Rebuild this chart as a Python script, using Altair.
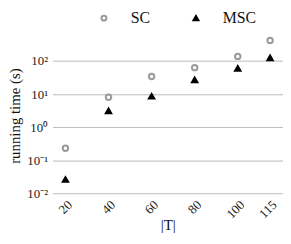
import altair as alt
import pandas as pd

sizes = [20, 40, 60, 80, 100, 115]
sc = [0.23, 8.0, 34, 63, 138, 420]
msc = [0.026, 3.1, 8.6, 27, 60, 125]
series = ["SC", "MSC"]
yticks = [0.01, 0.1, 1, 10, 100]

rows = []
for s, vals in zip(series, [sc, msc]):
    for t, v in zip(sizes, vals):
        rows.append({"T": t, "time": v, "series": s})
df = pd.DataFrame(rows)

FONT = "Liberation Serif"

chart = alt.Chart(df).mark_point(strokeWidth=2, opacity=1, size=30).encode(
    x=alt.X("T:Q", title="|T|",
            scale=alt.Scale(domain=[14, 121], nice=False, zero=False),
            axis=alt.Axis(values=sizes, labelAngle=-45, grid=False, domain=False,
                          ticks=False, labelFontSize=13, titleFontSize=15,
                          labelPadding=5, titleY=25, titleBaseline="top",
                          titleFont=FONT, labelFont=FONT,
                          titleFontWeight="normal", labelColor="#222", titleColor="#111")),
    y=alt.Y("time:Q", title="running time (s)",
            scale=alt.Scale(type="log", domain=[0.01, 500], nice=False),
            axis=alt.Axis(values=yticks, domain=False, ticks=False, gridColor="#bbbbbb",
                          labelFontSize=13, titleFontSize=15, labelPadding=5, titlePadding=4,
                          titleFont=FONT, labelFont=FONT, titleFontWeight="normal",
                          labelColor="#222", titleColor="#111",
                          labelExpr="{'0.01':'10⁻²','0.1':'10⁻¹','1':'10⁰','10':'10¹','100':'10²'}[format(datum.value, '')]")),
    shape=alt.Shape("series:N", scale=alt.Scale(domain=series, range=["circle", "triangle-up"]),
                    legend=alt.Legend(title=None, orient="none", direction="horizontal",
                                      legendX=44, legendY=-28, labelFont=FONT, labelFontSize=16,
                                      labelOffset=19, columnPadding=38, symbolSize=25,
                                      symbolStrokeWidth=2, labelColor="#111")),
    stroke=alt.Stroke("series:N", scale=alt.Scale(domain=series, range=["#9a9a9a", "#000000"]), legend=None),
    fill=alt.Fill("series:N", scale=alt.Scale(domain=series, range=["#ffffff", "#000000"]), legend=None),
).properties(width=233, height=157,
             padding={"top": 29, "left": 45, "right": 0, "bottom": 42},
             autosize=alt.AutoSizeParams(type="none")
).configure_view(stroke=None)

chart.save("out.html", embed_options={"renderer": "svg", "actions": False})
